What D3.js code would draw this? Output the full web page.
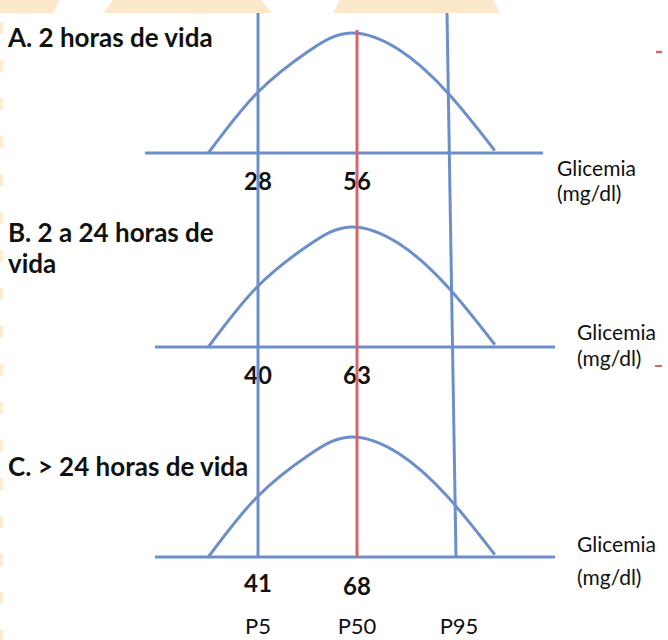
<!DOCTYPE html>
<html>
<head>
<meta charset="utf-8">
<script src="https://cdn.jsdelivr.net/npm/d3@7"></script>
<style>
  html, body { margin: 0; padding: 0; background: #fff; }
  svg { display: block; }
  text { font-family: Lato, "Open Sans", sans-serif; fill: #111; }
</style>
</head>
<body>
<svg id="chart"></svg>
<script>
// panel data
const panelTitles = [["A. 2 horas de vida"], ["B. 2 a 24 horas de", "vida"], ["C. > 24 horas de vida"]]
const p5Values = [28, 40, 41]
const p50Values = [56, 63, 68]
const percentileLabels = ["P5", "P50", "P95"]
const percentileZ = [-1.645, 0, 1.645]
const axisLabel = ["Glicemia", "(mg/dl)"]

// schematic bell shape (x in SD from median, relative height)
const shapeZ = [-2.47, -1.66, -0.8, -0.1, 0.7, 1.51, 2.29]
const shapeDensity = [0, 0.5, 0.85, 1, 0.86, 0.5, 0.02]

let w = 668
let h = 640
let blue = "#6d8fc9"
let red = "#d8646e"

let svg = d3.select("#chart").attr("width", w).attr("height", h)

// decorative banner at the top and dashes on the left border
let deco = svg.append("g").attr("fill", "#fde8cc")
deco.append("path").attr("d", "M0,0 L60,0 L53,13 L0,13 Z")
deco.append("path").attr("d", "M113,0 L261,0 L272,13 L103,13 Z")
deco.append("path").attr("d", "M340,0 L493,0 L500,13 L333,13 Z")
svg.append("line")
    .attr("x1", 1.5).attr("x2", 1.5).attr("y1", 22).attr("y2", 640)
    .attr("stroke", "#fdebd3").attr("stroke-width", 3)
    .attr("stroke-dasharray", "12 26")

let x = d3.scaleLinear().domain([-1.645, 0]).range([258, 357])

// panel layout
let baseY = [153, 347, 557]
let baseExtent = [[145, 543], [155, 555], [155, 555]]
let titleY = [47, 242, 476]
let labelX = [557, 577, 577]
let labelY = [[176, 201], [340, 366], [552, 585]]
let numY = [[190, 190], [384, 384], [592, 595]]
let curveH = 120

let shape = shapeZ.map((z, i) => [z, shapeDensity[i]])

let panels = svg.append("g").attr("class", "panels")

baseY.forEach((by, i) => {
    let g = panels.append("g")
    let y = d3.scaleLinear().domain([0, 1]).range([by, by - curveH])
    let line = d3.line()
        .x(d => x(d[0]))
        .y(d => y(d[1]))
        .curve(d3.curveNatural)

    // axis line
    g.append("line")
        .attr("x1", baseExtent[i][0]).attr("x2", baseExtent[i][1])
        .attr("y1", by).attr("y2", by)
        .attr("stroke", blue).attr("stroke-width", 3)

    // distribution curve
    g.append("path")
        .datum(shape)
        .attr("d", line)
        .attr("fill", "none")
        .attr("stroke", blue)
        .attr("stroke-width", 3)

    // title
    let t = g.append("text")
        .attr("x", 8).attr("y", titleY[i])
        .attr("font-size", 26).attr("font-weight", "bold")
    panelTitles[i].forEach((s, k) => {
        t.append("tspan").attr("x", 8).attr("dy", k === 0 ? 0 : 31).text(s)
    })

    // values at P5 and P50
    g.append("text")
        .attr("x", x(percentileZ[0])).attr("y", numY[i][0])
        .attr("text-anchor", "middle")
        .attr("font-size", 24).attr("font-weight", "bold")
        .text(p5Values[i])
    g.append("text")
        .attr("x", x(percentileZ[1])).attr("y", numY[i][1])
        .attr("text-anchor", "middle")
        .attr("font-size", 24).attr("font-weight", "bold")
        .text(p50Values[i])

    // axis label
    axisLabel.forEach((s, k) => {
        g.append("text")
            .attr("x", labelX[i]).attr("y", labelY[i][k])
            .attr("font-size", 21)
            .text(s)
    })
})

// cut-off red marks at the right edge
svg.append("line").attr("x1", 656).attr("x2", 662).attr("y1", 52).attr("y2", 52)
    .attr("stroke", red).attr("stroke-width", 2.5)
svg.append("line").attr("x1", 655).attr("x2", 662).attr("y1", 366).attr("y2", 366)
    .attr("stroke", red).attr("stroke-width", 2)

// percentile lines
let lineTop = 13
let lineBottom = baseY[2]
let vlines = svg.append("g").attr("class", "percentiles")
vlines.append("line")
    .attr("x1", x(percentileZ[0])).attr("x2", x(percentileZ[0]))
    .attr("y1", lineTop).attr("y2", lineBottom)
    .attr("stroke", blue).attr("stroke-width", 3)
vlines.append("line")
    .attr("x1", x(percentileZ[2]) - 9).attr("x2", x(percentileZ[2]))
    .attr("y1", lineTop).attr("y2", lineBottom)
    .attr("stroke", blue).attr("stroke-width", 3)
vlines.append("line")
    .attr("x1", x(percentileZ[1])).attr("x2", x(percentileZ[1]))
    .attr("y1", 30).attr("y2", lineBottom)
    .attr("stroke", red).attr("stroke-width", 3)

// percentile labels
svg.selectAll(".plabel")
    .data(percentileLabels)
    .enter()
    .append("text")
    .attr("class", "plabel")
    .attr("x", (d, i) => x(percentileZ[i]) + (i === 2 ? 3 : 0))
    .attr("y", 634)
    .attr("text-anchor", "middle")
    .attr("font-size", 22)
    .text(d => d)
</script>
</body>
</html>
